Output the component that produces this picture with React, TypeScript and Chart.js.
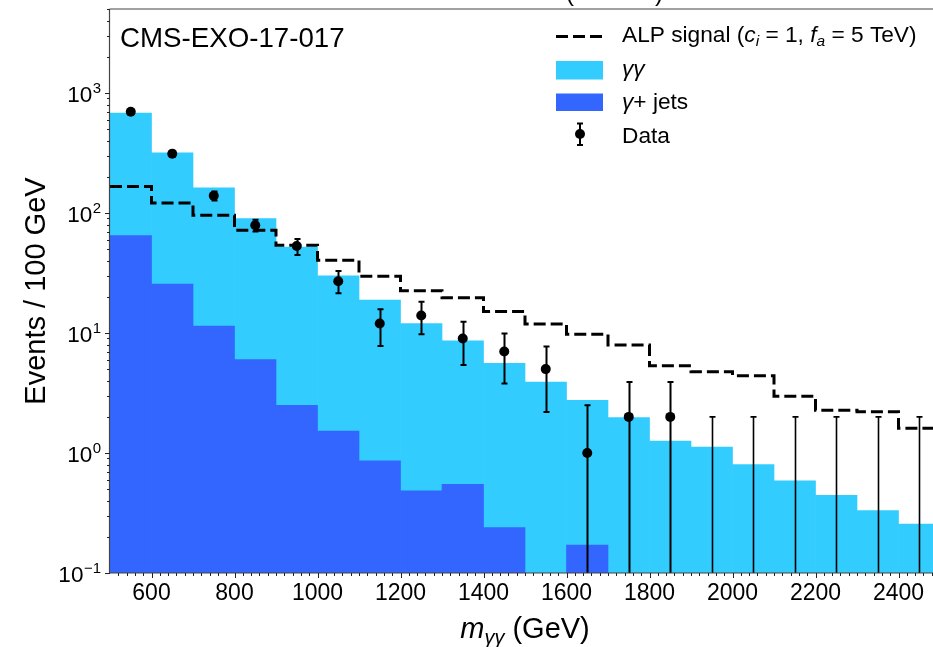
import { useEffect, useRef } from 'react';
import { Chart, registerables } from 'chart.js';

Chart.register(...registerables);

// ---- data ----
const BIN_EDGES = [500, 600, 700, 800, 900, 1000, 1100, 1200, 1300, 1400, 1500, 1600, 1700, 1800, 1900, 2000, 2100, 2200, 2300, 2400, 2500];
const BIN_CENTERS = [550, 650, 750, 850, 950, 1050, 1150, 1250, 1350, 1450, 1550, 1650, 1750, 1850, 1950, 2050, 2150, 2250, 2350, 2450];
const GAMMA_GAMMA = [680, 318, 162, 90, 52, 30, 18.8, 12.0, 8.6, 5.6, 3.9, 2.75, 1.97, 1.26, 1.12, 0.8, 0.585, 0.444, 0.331, 0.256];
const GAMMA_JETS = [64.7, 25.6, 11.4, 6.0, 2.5, 1.52, 0.86, 0.485, 0.548, 0.239, 0, 0.171, 0, 0, 0, 0, 0, 0, 0, 0];
const ALP_SIGNAL = [166, 121, 95.6, 71.8, 53.8, 40.3, 29.7, 22.5, 19.7, 15.1, 11.9, 9.75, 7.94, 5.34, 4.76, 4.41, 2.97, 2.27, 2.21, 1.61];
const DATA = [698, 312, 139, 79, 53, 27, 12, 14, 9, 7, 5, 1, 2, 2, 0, 0, 0, 0, 0, 0];
const DATA_UP = [724, 330, 151, 88, 60.7, 32.9, 15.8, 18.2, 12.4, 9.9, 7.7, 2.5, 3.9, 3.9, 2.0, 2.0, 2.0, 2.0, 2.0, 2.0];
const DATA_DOWN = [672, 294, 127, 70, 44.7, 21.4, 7.8, 9.75, 5.4, 3.8, 2.2, 0, 0, 0, 0, 0, 0, 0, 0, 0];

const X_TICKS = [600, 800, 1000, 1200, 1400, 1600, 1800, 2000, 2200, 2400];
const Y_TICKS = [0.1, 1, 10, 100, 1000];
const Y_TICK_EXP = ['\u22121', '0', '1', '2', '3'];

const X_MIN = 500;
const X_MAX = 2500;
const Y_MIN = 0.1;
const Y_MAX = Math.pow(10, 3.7);

const LIGHT = '#33ccff';
const DARK = '#3366ff';
const SANS = '"Liberation Sans", Arial, Helvetica, sans-serif';

type Seg = { t: string; font: string; dy?: number };

function drawRich(ctx: CanvasRenderingContext2D, segs: Seg[], x: number, y: number, align: 'left' | 'center' | 'right' = 'left') {
  ctx.textAlign = 'left';
  ctx.textBaseline = 'alphabetic';
  let total = 0;
  for (const s of segs) {
    ctx.font = s.font;
    total += ctx.measureText(s.t).width;
  }
  let cx = align === 'left' ? x : align === 'center' ? x - total / 2 : x - total;
  for (const s of segs) {
    ctx.font = s.font;
    ctx.fillText(s.t, cx, y + (s.dy || 0));
    cx += ctx.measureText(s.t).width;
  }
}

const overlay = {
  id: 'overlay',
  afterDraw(chart: any) {
    const ctx: CanvasRenderingContext2D = chart.ctx;
    const xs = chart.scales.x;
    const ys = chart.scales.y;
    const { left, right, top, bottom } = chart.chartArea;
    ctx.save();

    // error bars
    ctx.strokeStyle = '#000';
    for (let i = 0; i < BIN_CENTERS.length; i++) {
      const px = Math.round(xs.getPixelForValue(BIN_CENTERS[i])) + 0.5;
      const up = ys.getPixelForValue(DATA_UP[i]);
      const lowVal = DATA_DOWN[i];
      const lo = lowVal > Y_MIN ? ys.getPixelForValue(lowVal) : bottom;
      ctx.lineWidth = DATA[i] > 0 ? 2 : 1.6;
      ctx.beginPath();
      ctx.moveTo(px, lo);
      ctx.lineTo(px, up);
      ctx.moveTo(px - 3, up);
      ctx.lineTo(px + 3, up);
      if (lowVal > Y_MIN) {
        ctx.moveTo(px - 3, lo);
        ctx.lineTo(px + 3, lo);
      }
      ctx.stroke();
    }

    // frame
    ctx.strokeStyle = '#444';
    ctx.lineWidth = 1.2;
    ctx.beginPath();
    ctx.moveTo(left - 0.5, top);
    ctx.lineTo(right, top);
    ctx.moveTo(left - 0.5, top);
    ctx.lineTo(left - 0.5, bottom);
    ctx.lineTo(right, bottom);
    ctx.stroke();

    // y ticks
    ctx.strokeStyle = '#222';
    ctx.lineWidth = 1;
    ctx.beginPath();
    for (let e = -1; e <= 3; e++) {
      for (let m = 1; m <= 9; m++) {
        const v = m * Math.pow(10, e);
        if (v < Y_MIN - 1e-9 || v > Y_MAX) continue;
        const py = Math.round(ys.getPixelForValue(v)) + 0.5;
        const len = m === 1 ? 5 : 3;
        ctx.moveTo(left - len, py);
        ctx.lineTo(left, py);
      }
    }
    // x ticks
    for (let v = 520; v < X_MAX; v += 20) {
      const px = Math.round(xs.getPixelForValue(v)) + 0.5;
      const len = X_TICKS.includes(v) ? 5 : 3;
      ctx.moveTo(px, bottom);
      ctx.lineTo(px, bottom + len);
    }
    ctx.stroke();

    ctx.fillStyle = '#000';
    // y tick labels
    for (let i = 0; i < Y_TICKS.length; i++) {
      const py = ys.getPixelForValue(Y_TICKS[i]);
      ctx.font = `15px ${SANS}`;
      const ew = ctx.measureText(Y_TICK_EXP[i]).width;
      ctx.textAlign = 'right';
      ctx.textBaseline = 'alphabetic';
      ctx.fillText(Y_TICK_EXP[i], 101, py - 0.5);
      ctx.font = `22.5px ${SANS}`;
      ctx.fillText('10', 101 - ew - 0.5, py + 8.5);
    }
    // x tick labels
    ctx.font = `23px ${SANS}`;
    ctx.textAlign = 'center';
    for (const v of X_TICKS) {
      ctx.fillText(String(v), xs.getPixelForValue(v), 600);
    }

    // axis titles
    drawRich(ctx, [
      { t: 'm', font: `italic 29px ${SANS}` },
      { t: '\u03b3\u03b3', font: `italic 20px ${SANS}`, dy: 6 },
      { t: ' (GeV)', font: `29px ${SANS}` },
    ], (left + right) / 2, 638, 'center');

    ctx.save();
    ctx.translate(45, (top + bottom) / 2);
    ctx.rotate(-Math.PI / 2);
    ctx.font = `29px ${SANS}`;
    ctx.textAlign = 'center';
    ctx.textBaseline = 'alphabetic';
    ctx.fillText('Events / 100 GeV', 0, 0);
    ctx.restore();

    // experiment label
    ctx.font = `27.7px ${SANS}`;
    ctx.textAlign = 'left';
    ctx.fillText('CMS-EXO-17-017', 120, 47);

    // cut-off title parentheses at the very top
    ctx.font = `24px ${SANS}`;
    ctx.fillText('(', 566, 1);
    ctx.fillText(')', 655, 1);

    // legend
    ctx.strokeStyle = '#000';
    ctx.lineWidth = 3;
    ctx.setLineDash([12, 5]);
    ctx.beginPath();
    ctx.moveTo(556, 36.5);
    ctx.lineTo(603, 36.5);
    ctx.stroke();
    ctx.setLineDash([]);
    ctx.fillStyle = LIGHT;
    ctx.fillRect(556, 61, 47, 18.5);
    ctx.fillStyle = DARK;
    ctx.fillRect(556, 93.5, 47, 17.5);
    ctx.fillStyle = '#000';
    ctx.lineWidth = 2;
    ctx.beginPath();
    ctx.moveTo(580, 123.5);
    ctx.lineTo(580, 145);
    ctx.moveTo(577, 123.5);
    ctx.lineTo(583, 123.5);
    ctx.moveTo(577, 145);
    ctx.lineTo(583, 145);
    ctx.stroke();
    ctx.beginPath();
    ctx.arc(580, 134, 5, 0, Math.PI * 2);
    ctx.fill();

    const N = `22.7px ${SANS}`;
    const I = `italic 22.7px ${SANS}`;
    const S = `italic 15.5px ${SANS}`;
    drawRich(ctx, [
      { t: 'ALP signal (', font: N },
      { t: 'c', font: I },
      { t: 'i', font: S, dy: 4 },
      { t: ' = 1, ', font: N },
      { t: 'f', font: I },
      { t: 'a', font: S, dy: 4 },
      { t: ' = 5 TeV)', font: N },
    ], 622, 42);
    drawRich(ctx, [{ t: '\u03b3\u03b3', font: I }], 622, 75.5);
    drawRich(ctx, [{ t: '\u03b3', font: I }, { t: '+ jets', font: N }], 622, 109);
    drawRich(ctx, [{ t: 'Data', font: N }], 622, 142.5);

    ctx.restore();
  },
};

export default function App() {
  const ref = useRef<HTMLCanvasElement | null>(null);

  useEffect(() => {
    if (!ref.current) return;
    const chart = new Chart(ref.current, {
      type: 'bar',
      data: {
        datasets: [
          {
            type: 'bar',
            label: '\u03b3\u03b3',
            data: BIN_CENTERS.map((x, i) => ({ x, y: GAMMA_GAMMA[i] })),
            backgroundColor: LIGHT,
            borderWidth: 0,
            barPercentage: 1,
            categoryPercentage: 1,
            grouped: false,
            order: 4,
          } as any,
          {
            type: 'bar',
            label: '\u03b3+ jets',
            data: BIN_CENTERS.map((x, i) => ({ x, y: GAMMA_JETS[i] > 0 ? GAMMA_JETS[i] : null })),
            backgroundColor: DARK,
            borderWidth: 0,
            barPercentage: 1,
            categoryPercentage: 1,
            grouped: false,
            order: 3,
          } as any,
          {
            type: 'line',
            label: 'ALP signal',
            data: BIN_EDGES.map((x, i) => ({ x, y: ALP_SIGNAL[Math.min(i, ALP_SIGNAL.length - 1)] })),
            stepped: true,
            borderColor: '#000',
            borderWidth: 3,
            borderDash: [12, 5],
            pointRadius: 0,
            fill: false,
            order: 2,
          } as any,
          {
            type: 'scatter',
            label: 'Data',
            data: BIN_CENTERS.map((x, i) => ({ x, y: DATA[i] > 0 ? DATA[i] : null })),
            pointRadius: 5,
            pointBackgroundColor: '#000',
            pointBorderColor: '#000',
            pointBorderWidth: 0,
            order: 1,
          } as any,
        ],
      },
      options: {
        animation: false,
        responsive: false,
        maintainAspectRatio: false,
        devicePixelRatio: 1,
        layout: { padding: { left: 0, right: 10, top: 9, bottom: 0 } },
        plugins: { legend: { display: false }, tooltip: { enabled: false }, title: { display: false } },
        scales: {
          x: {
            type: 'linear',
            min: X_MIN,
            max: X_MAX,
            offset: false,
            grid: { display: false },
            border: { display: false },
            ticks: { display: false },
            afterFit: (s: any) => { s.height = 74; },
          },
          y: {
            type: 'logarithmic',
            min: Y_MIN,
            max: Y_MAX,
            grid: { display: false },
            border: { display: false },
            ticks: { display: false },
            afterFit: (s: any) => { s.width = 110; },
          },
        },
      } as any,
      plugins: [overlay],
    });
    return () => chart.destroy();
  }, []);

  return (
    <div style={{ position: 'fixed', left: 0, top: 0, width: 933, height: 647, overflow: 'hidden', background: '#fff' }}>
      <canvas ref={ref} width={950} height={647} style={{ display: 'block', width: 950, height: 647 }} />
    </div>
  );
}
